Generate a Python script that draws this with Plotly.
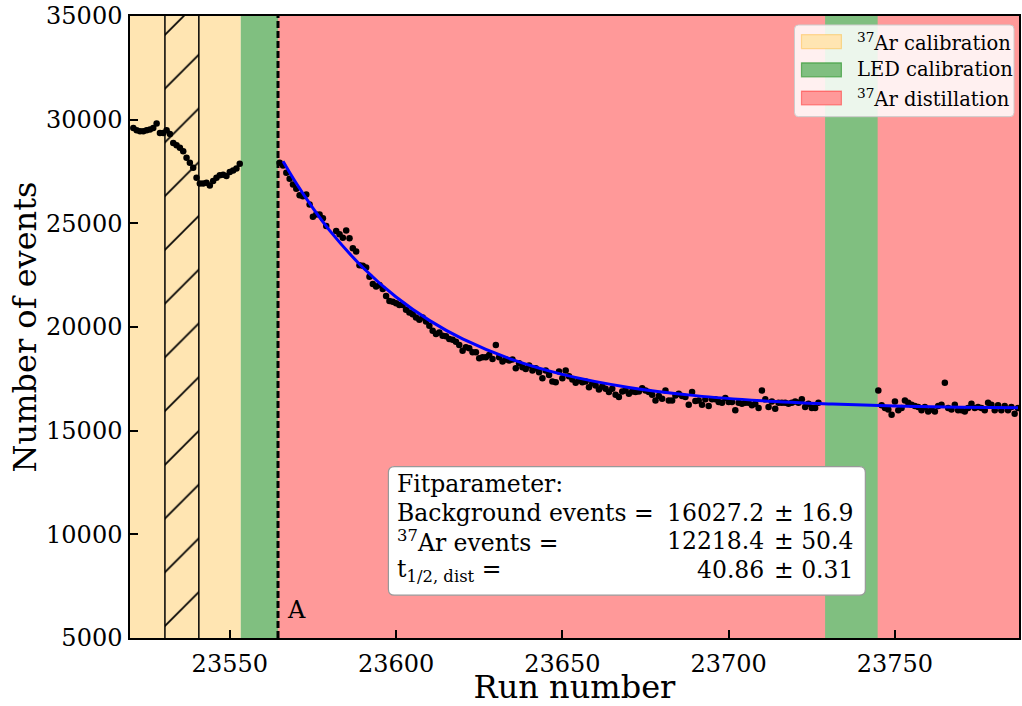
import plotly.graph_objects as go

# ---------------- data ----------------
runs_calib = list(range(23521, 23554))
counts_calib = [29600, 29490, 29440, 29440, 29490, 29520, 29600, 29810, 29360, 29360,
                29490, 29310, 28880, 28770, 28640, 28480, 28160, 27920, 27680, 27200,
                26920, 26920, 26960, 26830, 27040, 27200, 27320, 27340, 27280, 27470,
                27550, 27640, 27870]

runs_dist_a = list(range(23565, 23580))
counts_dist_a = [27920, 27790, 27440, 27150, 26870, 26670, 26350, 26310, 26390, 25910,
                 25320, 25430, 25430, 25240, 24870]
runs_dist_b = list(range(23582, 23616))
counts_dist_b = [24630, 24470, 24310, 24660, 24280, 23800, 23640, 22980, 22950, 22870,
                 22420, 22070, 21950, 22020, 21830, 21500, 21260, 21220, 21150, 21060,
                 21060, 20830, 20700, 20620, 20460, 20350, 20460, 20270, 20060, 19820,
                 19660, 19740, 19580, 19550]
runs_dist_c = list(range(23616, 23671))
counts_dist_c = [19420, 19390, 19290, 19130, 18860, 19020, 18970, 18780, 18780, 18490,
                 18540, 18540, 18650, 18460, 19130, 18540, 18330, 18430, 18380, 18430,
                 18010, 18250, 18060, 17980, 18140, 17900, 18010, 17820, 17530, 17900,
                 17690, 17370, 17340, 17850, 17530, 17900, 17630, 17470, 17310, 17420,
                 17340, 17370, 17100, 17290, 17180, 16990, 17130, 17020, 16860, 17020,
                 16730, 16620, 16890, 16940, 16780]
runs_dist_d = list(range(23671, 23728))
counts_dist_d = [16890, 16860, 16890, 17050, 16940, 16860, 16730, 16460, 16670, 16540,
                 16940, 16460, 16460, 16700, 16780, 16670, 16620, 16250, 16860, 16430,
                 16460, 16250, 16510, 16190, 16510, 16510, 16380, 16350, 16570, 16380,
                 16380, 15980, 16350, 16300, 16350, 16350, 16220, 16300, 16090, 16940,
                 16510, 16140, 16410, 16060, 16350, 16350, 16350, 16300, 16350, 16410,
                 16350, 16510, 16140, 16300, 16090, 16090, 16350]
runs_dist_e = list(range(23745, 23788))
counts_dist_e = [16940, 16220, 16090, 16020, 15770, 16410, 15980, 16090, 16460, 16350,
                 16250, 16190, 16140, 15980, 16140, 15930, 16020, 15930, 16190, 16250,
                 17310, 16090, 16020, 16250, 15980, 15980, 15930, 16090, 16300, 16090,
                 16140, 16090, 15980, 16350, 16250, 15980, 16220, 15980, 16190, 15980,
                 16140, 15820, 16090]

# fit curve
fit_runs = [23566, 23570, 23575, 23580, 23590, 23600, 23610, 23620, 23635, 23650,
            23670, 23690, 23710, 23730, 23750, 23770, 23787]
fit_counts = [27995, 26930, 25730, 24660, 22870, 21445, 20320, 19425, 18425, 17715,
              17085, 16690, 16445, 16290, 16190, 16130, 16105]

# shaded regions (run ranges)
band_calib = [(23520, 23553.3)]
band_led = [(23553.3, 23564.5), (23729.0, 23744.8)]
band_dist = [(23564.5, 23787.3)]
hatch_range = (23530.5, 23540.7)
marker_A_run = 23564.5

x_ticks = [23550, 23600, 23650, 23700, 23750]
y_ticks = [5000, 10000, 15000, 20000, 25000, 30000, 35000]
x_range = [23520, 23787.3]
y_range = [5000, 35000]

legend_labels = ["<sup>37</sup>Ar calibration", "LED calibration", "<sup>37</sup>Ar distillation"]
box_left = ["Fitparameter:", "Background events =", "<sup>37</sup>Ar events =", "t<sub>1/2, dist</sub> ="]
box_values = ["", "16027.2", "12218.4", "40.86"]
box_errors = ["", "± 16.9", "± 50.4", "± 0.31"]

# ---------------- style ----------------
FONT = "DejaVu Serif"
C_ORANGE = "#FFE5B2"
C_GREEN = "#80BF80"
C_RED = "#FF9999"
W, H = 1022, 706
ML, MR, MT, MB = 130, 1, 16, 66
PW, PH = W - ML - MR, H - MT - MB


def px(xp):
    return (xp - ML) / PW


def py(yp):
    return (H - MB - yp) / PH


def rounded_path(x0, y0, x1, y1, r):
    # pixel coords -> paper path with rounded corners
    rx, ry = r / PW, r / PH
    X0, X1 = px(x0), px(x1)
    Y0, Y1 = py(y1), py(y0)  # bottom, top
    return (f"M{X0+rx},{Y0} L{X1-rx},{Y0} Q{X1},{Y0} {X1},{Y0+ry} "
            f"L{X1},{Y1-ry} Q{X1},{Y1} {X1-rx},{Y1} L{X0+rx},{Y1} "
            f"Q{X0},{Y1} {X0},{Y1-ry} L{X0},{Y0+ry} Q{X0},{Y0} {X0+rx},{Y0} Z")


fig = go.Figure()

shapes = []
for (a, b) in band_calib:
    shapes.append(dict(type="rect", xref="x", yref="y", x0=a, x1=b, y0=y_range[0], y1=y_range[1],
                       fillcolor=C_ORANGE, line=dict(width=0), layer="below"))
for (a, b) in band_dist:
    shapes.append(dict(type="rect", xref="x", yref="y", x0=a, x1=b, y0=y_range[0], y1=y_range[1],
                       fillcolor=C_RED, line=dict(width=0), layer="below"))
for (a, b) in band_led:
    shapes.append(dict(type="rect", xref="x", yref="y", x0=a, x1=b, y0=y_range[0], y1=y_range[1],
                       fillcolor=C_GREEN, line=dict(width=0), layer="below"))
# hatch boundaries
for xv in hatch_range:
    shapes.append(dict(type="line", xref="x", yref="y", x0=xv, x1=xv, y0=y_range[0], y1=y_range[1],
                       line=dict(color="black", width=1.5), layer="below"))

# hatched region
fig.add_trace(go.Bar(
    x=[(hatch_range[0] + hatch_range[1]) / 2], y=[y_range[1] - y_range[0]], base=[y_range[0]],
    width=[hatch_range[1] - hatch_range[0]],
    marker=dict(color="rgba(0,0,0,0)", line=dict(width=0),
                pattern=dict(shape="/", fgcolor="black", fgopacity=1, bgcolor="rgba(0,0,0,0)",
                             size=38, solidity=0.045, fillmode="overlay")),
    showlegend=False, hoverinfo="skip"))

all_runs = runs_calib + runs_dist_a + runs_dist_b + runs_dist_c + runs_dist_d + runs_dist_e
all_counts = counts_calib + counts_dist_a + counts_dist_b + counts_dist_c + counts_dist_d + counts_dist_e
fig.add_trace(go.Scatter(x=all_runs, y=all_counts, mode="markers",
                         marker=dict(color="black", size=6.5), showlegend=False))
fig.add_trace(go.Scatter(x=fit_runs, y=fit_counts, mode="lines", line=dict(color="#0000FF", width=3, shape="spline"),
                         showlegend=False))

# dashed line A
shapes.append(dict(type="line", xref="x", yref="y", x0=marker_A_run, x1=marker_A_run,
                   y0=y_range[0], y1=y_range[1], line=dict(color="black", width=3, dash="7px,3px"),
                   layer="above"))

# legend box
shapes.append(dict(type="path", xref="paper", yref="paper", path=rounded_path(796, 25, 1016, 117, 4),
                   fillcolor="rgba(255,255,255,0.85)", line=dict(color="#cccccc", width=1), layer="above"))
annotations = []
leg_colors = [(C_ORANGE, "rgba(255,165,0,0.35)"), (C_GREEN, "rgba(0,128,0,0.5)"), (C_RED, "rgba(255,0,0,0.4)")]
leg_y = [41.7, 70, 98.3]
for (fc, lc), yy, lab in zip(leg_colors, leg_y, legend_labels):
    shapes.append(dict(type="rect", xref="paper", yref="paper", x0=px(803), x1=px(843),
                       y0=py(yy + 7), y1=py(yy - 7), fillcolor=fc, line=dict(color=lc, width=1.2),
                       layer="above"))
    annotations.append(dict(xref="paper", yref="paper", x=px(857), y=py(yy), text=lab, showarrow=False,
                            xanchor="left", yanchor="middle", font=dict(family=FONT, size=19.5, color="black")))

# fit parameter box
shapes.append(dict(type="path", xref="paper", yref="paper", path=rounded_path(389, 468, 867, 597, 6),
                   fillcolor="white", line=dict(color="#999999", width=1.2), layer="above"))
line_y = [486, 515, 543, 572]
for yy, l, v, e in zip(line_y, box_left, box_values, box_errors):
    annotations.append(dict(xref="paper", yref="paper", x=px(396), y=py(yy), text=l, showarrow=False,
                            xanchor="left", yanchor="middle", font=dict(family=FONT, size=23.5, color="black")))
    if v:
        annotations.append(dict(xref="paper", yref="paper", x=px(767), y=py(yy), text=v, showarrow=False,
                                xanchor="right", yanchor="middle", font=dict(family=FONT, size=23.5, color="black")))
        annotations.append(dict(xref="paper", yref="paper", x=px(773), y=py(yy), text=e, showarrow=False,
                                xanchor="left", yanchor="middle", font=dict(family=FONT, size=23.5, color="black")))

annotations.append(dict(xref="x", yref="y", x=marker_A_run + 2, y=6350, text="A", showarrow=False,
                        xanchor="left", yanchor="middle", font=dict(family=FONT, size=24, color="black")))

fig.update_layout(
    width=W, height=H, margin=dict(l=ML, r=MR, t=MT, b=MB, pad=0),
    plot_bgcolor="white", paper_bgcolor="white",
    font=dict(family=FONT, size=24, color="black"),
    shapes=shapes, annotations=annotations, showlegend=False, bargap=0,
    xaxis=dict(range=x_range, tickvals=x_ticks, tickformat="d", ticks="inside", ticklen=8, tickwidth=1.5,
               tickcolor="black", showline=True, mirror=True, linecolor="black", linewidth=1.5,
               showgrid=False, zeroline=False, ticklabelstandoff=3, tickfont=dict(size=24),
               title=dict(text="Run number", font=dict(family=FONT, size=32), standoff=5)),
    yaxis=dict(range=y_range, tickvals=y_ticks, tickformat="d", ticks="inside", ticklen=8, tickwidth=1.5,
               tickcolor="black", showline=True, mirror=True, linecolor="black", linewidth=1.5,
               showgrid=False, zeroline=False, ticklabelstandoff=1, tickfont=dict(size=24),
               title=dict(text="Number of events", font=dict(family=FONT, size=32), standoff=0)),
)

fig.write_html("out.html")
